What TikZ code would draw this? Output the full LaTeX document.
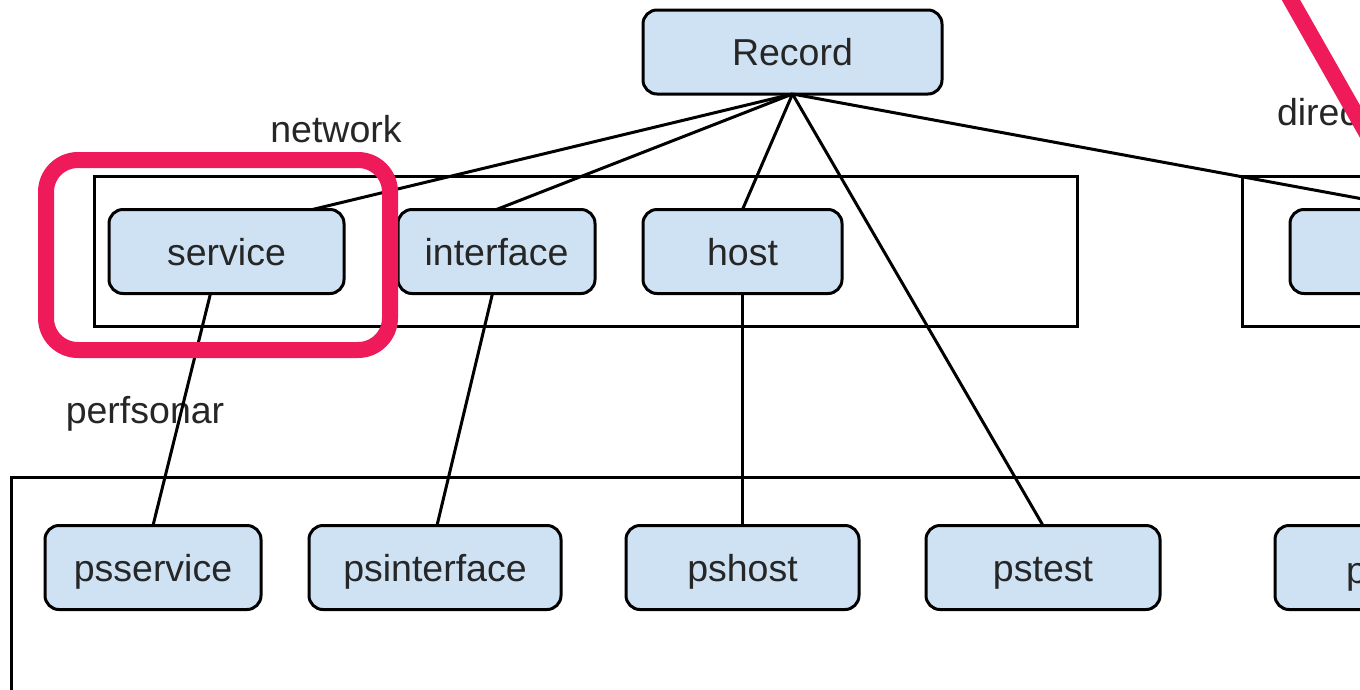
\documentclass[tikz,border=0pt]{standalone}
\usepackage{fontspec}
\setmainfont{Liberation Sans}
\definecolor{boxblue}{HTML}{CFE2F3}
\definecolor{hipink}{HTML}{EE1A5A}
\begin{document}
\begin{tikzpicture}[x=1pt,y=-1pt,
  every node/.style={font=\fontsize{37.5}{44}\selectfont, inner sep=0pt, outer sep=0pt, text=black!85},
  rec/.style={draw=black, line width=3pt, fill=boxblue, rounded corners=14pt,
    minimum height=84pt, text height=34pt, text depth=7pt},
  grp/.style={draw=black, line width=3pt},
  link/.style={draw=black, line width=3pt},
  lbl/.style={anchor=base},
  himark/.style={draw=hipink, line width=16pt}
]
\useasboundingbox (0,0) rectangle (1360,689);
\clip (0,0) rectangle (1360,689);
\fill[white] (0,0) rectangle (1360,689);
% group frames
\draw[grp] (94,176) rectangle (1077,326);
\draw[grp] (1242,176) rectangle (1500,326);
\draw[grp] (11,477) rectangle (1500,760);
% labels
\node[lbl] (lnet) at (336,142) {network};
\node[lbl] (lperf) at (145,423) {perfsonar};
\node[lbl, anchor=base west] (ldir) at (1277,125) {direc};
% nodes
\node[rec, minimum width=299pt] (record) at (792.5,52) {Record};
\node[rec, minimum width=235pt] (service) at (226.5,251.5) {service};
\node[rec, minimum width=197pt] (interface) at (496.5,251.5) {interface};
\node[rec, minimum width=199pt] (host) at (742.5,251.5) {host};
\node[rec, minimum width=260pt] (dir) at (1420,251.5) {};
\node[rec, minimum width=216pt] (psservice) at (153,567.5) {psservice};
\node[rec, minimum width=252pt] (psinterface) at (435,567.5) {psinterface};
\node[rec, minimum width=233pt] (pshost) at (742.5,567.5) {pshost};
\node[rec, minimum width=234pt] (pstest) at (1043,567.5) {pstest};
\node[rec, minimum width=235pt] (psdir) at (1392.5,567.5) {};
\node[anchor=base west] (psdirtext) at (1346,583) {p};
% connectors
\draw[link] (record.south) -- ([xshift=86pt]service.north);
\draw[link] (record.south) -- (interface.north);
\draw[link] (record.south) -- (host.north);
\draw[link] (record.south) -- (pstest.north);
\draw[link] (record.south) -- (dir.north);
\draw[link] ([xshift=-16pt]service.south) -- (psservice.north);
\draw[link] ([xshift=-4pt]interface.south) -- ([xshift=2pt]psinterface.north);
\draw[link] (host.south) -- (pshost.north);
% highlight marks
\draw[himark, rounded corners=32pt] (46,160) rectangle (390,350);
\coordinate (pa) at (1283,-14);
\coordinate (pb) at (1383,162);
\draw[himark] (pa) -- (pb);
\end{tikzpicture}
\end{document}
